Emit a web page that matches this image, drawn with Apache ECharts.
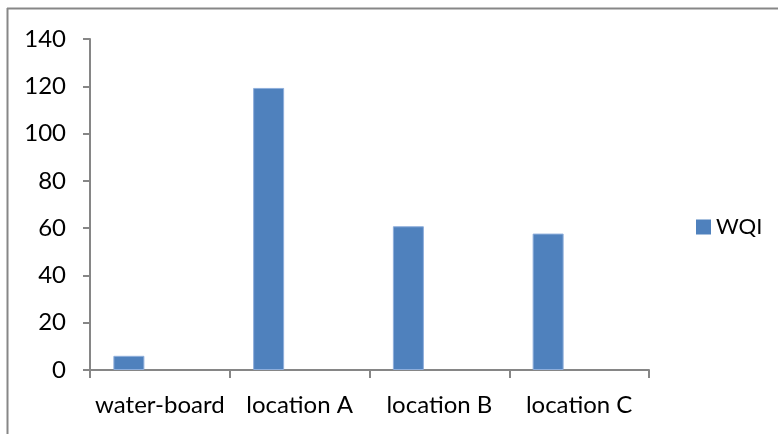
<!DOCTYPE html>
<html>
<head>
<meta charset="utf-8">
<script src="https://cdn.jsdelivr.net/npm/echarts@6/dist/echarts.min.js"></script>
<style>
  html, body { margin: 0; padding: 0; background: #fff; }
  #chart { width: 778px; height: 434px; }
</style>
</head>
<body>
<div id="chart"></div>
<script>
// Water quality index per sampling site
const categories = ['water-board', 'location A', 'location B', 'location C'];
const wqiValues = [6, 119.3, 60.8, 57.7];
// two unused series slots keep the bars in the left third of each category
const emptySlot = [null, null, null, null];
const yTicks = { min: 0, max: 140, interval: 20 };

const FONT = 'Lato';
const AXIS_GREY = '#868686';

const chart = echarts.init(document.getElementById('chart'), null, { renderer: 'canvas' });

chart.setOption({
  backgroundColor: '#ffffff',
  animation: false,
  grid: { left: 90, right: 129, top: 39, bottom: 64, containLabel: false },
  legend: {
    data: ['WQI'],
    left: 691,
    top: 211,
    icon: 'rect',
    itemWidth: 15,
    itemHeight: 15,
    itemGap: 7,
    itemStyle: { borderWidth: 0 },
    textStyle: { fontFamily: FONT, fontSize: 22, color: '#000' }
  },
  xAxis: {
    type: 'category',
    data: categories,
    boundaryGap: true,
    axisLine: { lineStyle: { color: AXIS_GREY, width: 2 } },
    axisTick: { show: true, length: 8, lineStyle: { color: AXIS_GREY, width: 2 } },
    axisLabel: { margin: 23, fontFamily: FONT, fontSize: 24, color: '#000', interval: 0 },
    splitLine: { show: false }
  },
  yAxis: {
    type: 'value',
    min: yTicks.min,
    max: yTicks.max,
    interval: yTicks.interval,
    axisLine: { show: true, lineStyle: { color: AXIS_GREY, width: 2 } },
    axisTick: { show: true, length: 7, lineStyle: { color: AXIS_GREY, width: 2 } },
    axisLabel: { margin: 24, fontFamily: FONT, fontSize: 24, color: '#000' },
    splitLine: { show: false }
  },
  series: [
    {
      name: 'WQI',
      type: 'bar',
      data: wqiValues,
      barWidth: 31,
      barGap: '0%',
      itemStyle: { color: '#4F81BD', borderColor: '#8eaedb', borderWidth: 1 }
    },
    { name: 'slot2', type: 'bar', data: emptySlot, barWidth: 31, barGap: '0%' },
    { name: 'slot3', type: 'bar', data: emptySlot, barWidth: 31, barGap: '0%' }
  ],
  graphic: [
    // chart-area frame: top and left edges
    { type: 'line', shape: { x1: 7, y1: 8.5, x2: 778, y2: 8.5 }, style: { stroke: '#878787', lineWidth: 2 }, silent: true },
    { type: 'line', shape: { x1: 7.5, y1: 8, x2: 7.5, y2: 434 }, style: { stroke: '#878787', lineWidth: 2 }, silent: true }
  ]
});
</script>
</body>
</html>
